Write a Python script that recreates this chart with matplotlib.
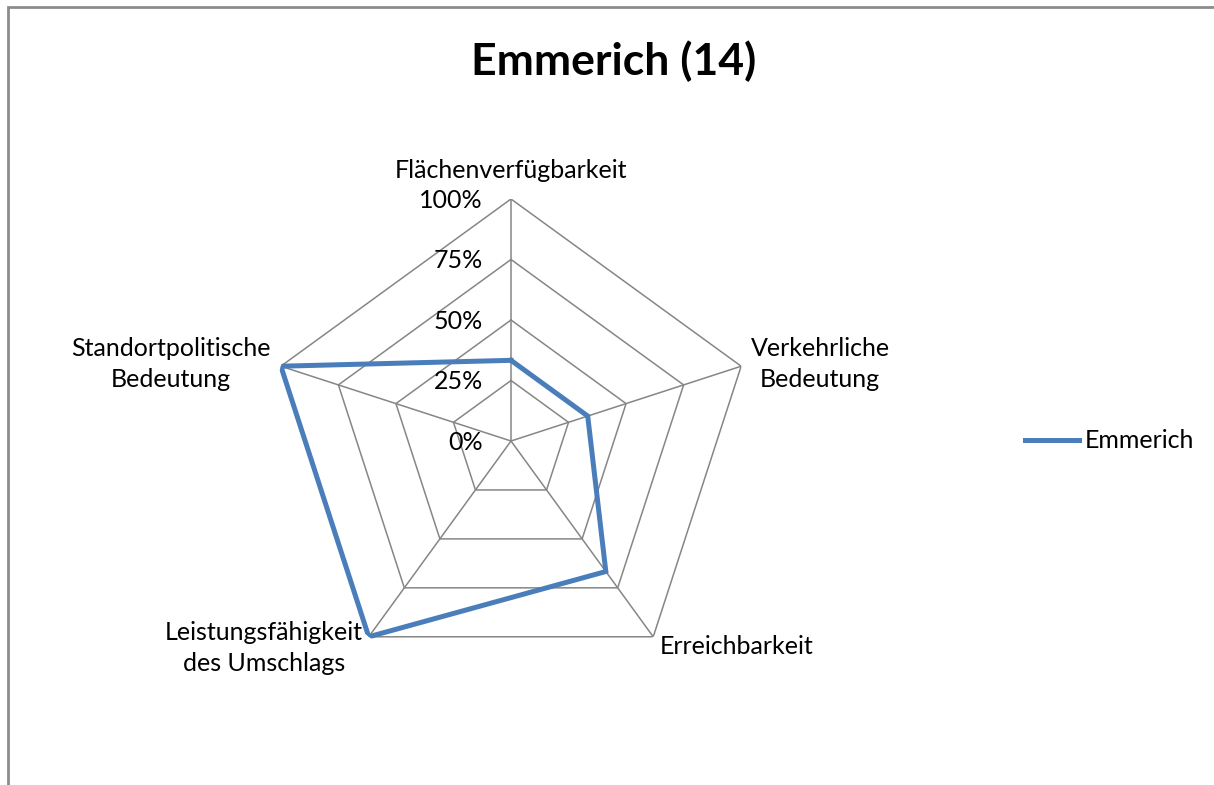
import numpy as np
import matplotlib.pyplot as plt
from matplotlib.patches import Rectangle

# Daten
categories = ['Flächenverfügbarkeit', 'Verkehrliche\nBedeutung', 'Erreichbarkeit',
              'Leistungsfähigkeit\ndes Umschlags', 'Standortpolitische\nBedeutung']
values = [1/3, 1/3, 2/3, 1.0, 1.0]
levels = [0.0, 0.25, 0.5, 0.75, 1.0]
level_labels = ['0%', '25%', '50%', '75%', '100%']
series_name = 'Emmerich'
title = 'Emmerich (14)'

plt.rcParams['font.family'] = ['Lato', 'DejaVu Sans']

W, H = 1214, 785
fig = plt.figure(figsize=(W / 100, H / 100), dpi=100)

# Rahmen links/oben
fig.patches.append(Rectangle((8 / W, -0.1), 1.2, (H - 7) / H + 0.1, transform=fig.transFigure,
                             fill=False, edgecolor='#8c8c8c', linewidth=2))

cx, cy, R = 511, 441, 242
ax = fig.add_axes([(cx - R) / W, (H - cy - R) / H, 2 * R / W, 2 * R / H], projection='polar')
ax.set_theta_offset(np.pi / 2)
ax.set_theta_direction(-1)
ax.set_ylim(0, 1)
ax.grid(False)
ax.set_xticks([])
ax.set_yticks([])
ax.spines['polar'].set_visible(False)
ax.patch.set_alpha(0)

n = len(categories)
angles = np.linspace(0, 2 * np.pi, n, endpoint=False)
ang_closed = np.concatenate([angles, angles[:1]])

grid_col = '#868686'
for lv in levels[1:]:
    ax.plot(ang_closed, [lv] * (n + 1), color=grid_col, linewidth=1.1, zorder=1)
for a in angles:
    ax.plot([a, a], [0, 1], color=grid_col, linewidth=1.1, zorder=1)

vals_closed = values + values[:1]
line, = ax.plot(ang_closed, vals_closed, color='#4a7ebb', linewidth=3.6, zorder=3,
                solid_joinstyle='miter')

# Achsenbeschriftung (Prozent)
for lv, lab in zip(levels, level_labels):
    ax.annotate(lab, xy=(0, lv), xytext=(-28, -1), textcoords='offset pixels',
                ha='right', va='center', fontsize=18, color='#000000')

# Kategorien
label_pos = [(511, 171, 'center'), (820, 364, 'center'), (660, 646, 'left'),
             (264, 648, 'center'), (171, 364, 'center')]
for cat, (px, py, ha) in zip(categories, label_pos):
    fig.text(px / W, 1 - py / H, cat, ha=ha, va='center', fontsize=18,
             linespacing=1.4, color='#000000')

fig.text(614 / W, 1 - 61 / H, title, ha='center', va='center', fontsize=32,
         fontweight='bold')

fig.legend([line], [series_name], loc='center left', bbox_to_anchor=(1025 / W, 1 - 441 / H),
           frameon=False, fontsize=18, handlelength=2.15, handletextpad=0.25,
           borderpad=0, borderaxespad=0)

fig.savefig('out.png', dpi=100)
